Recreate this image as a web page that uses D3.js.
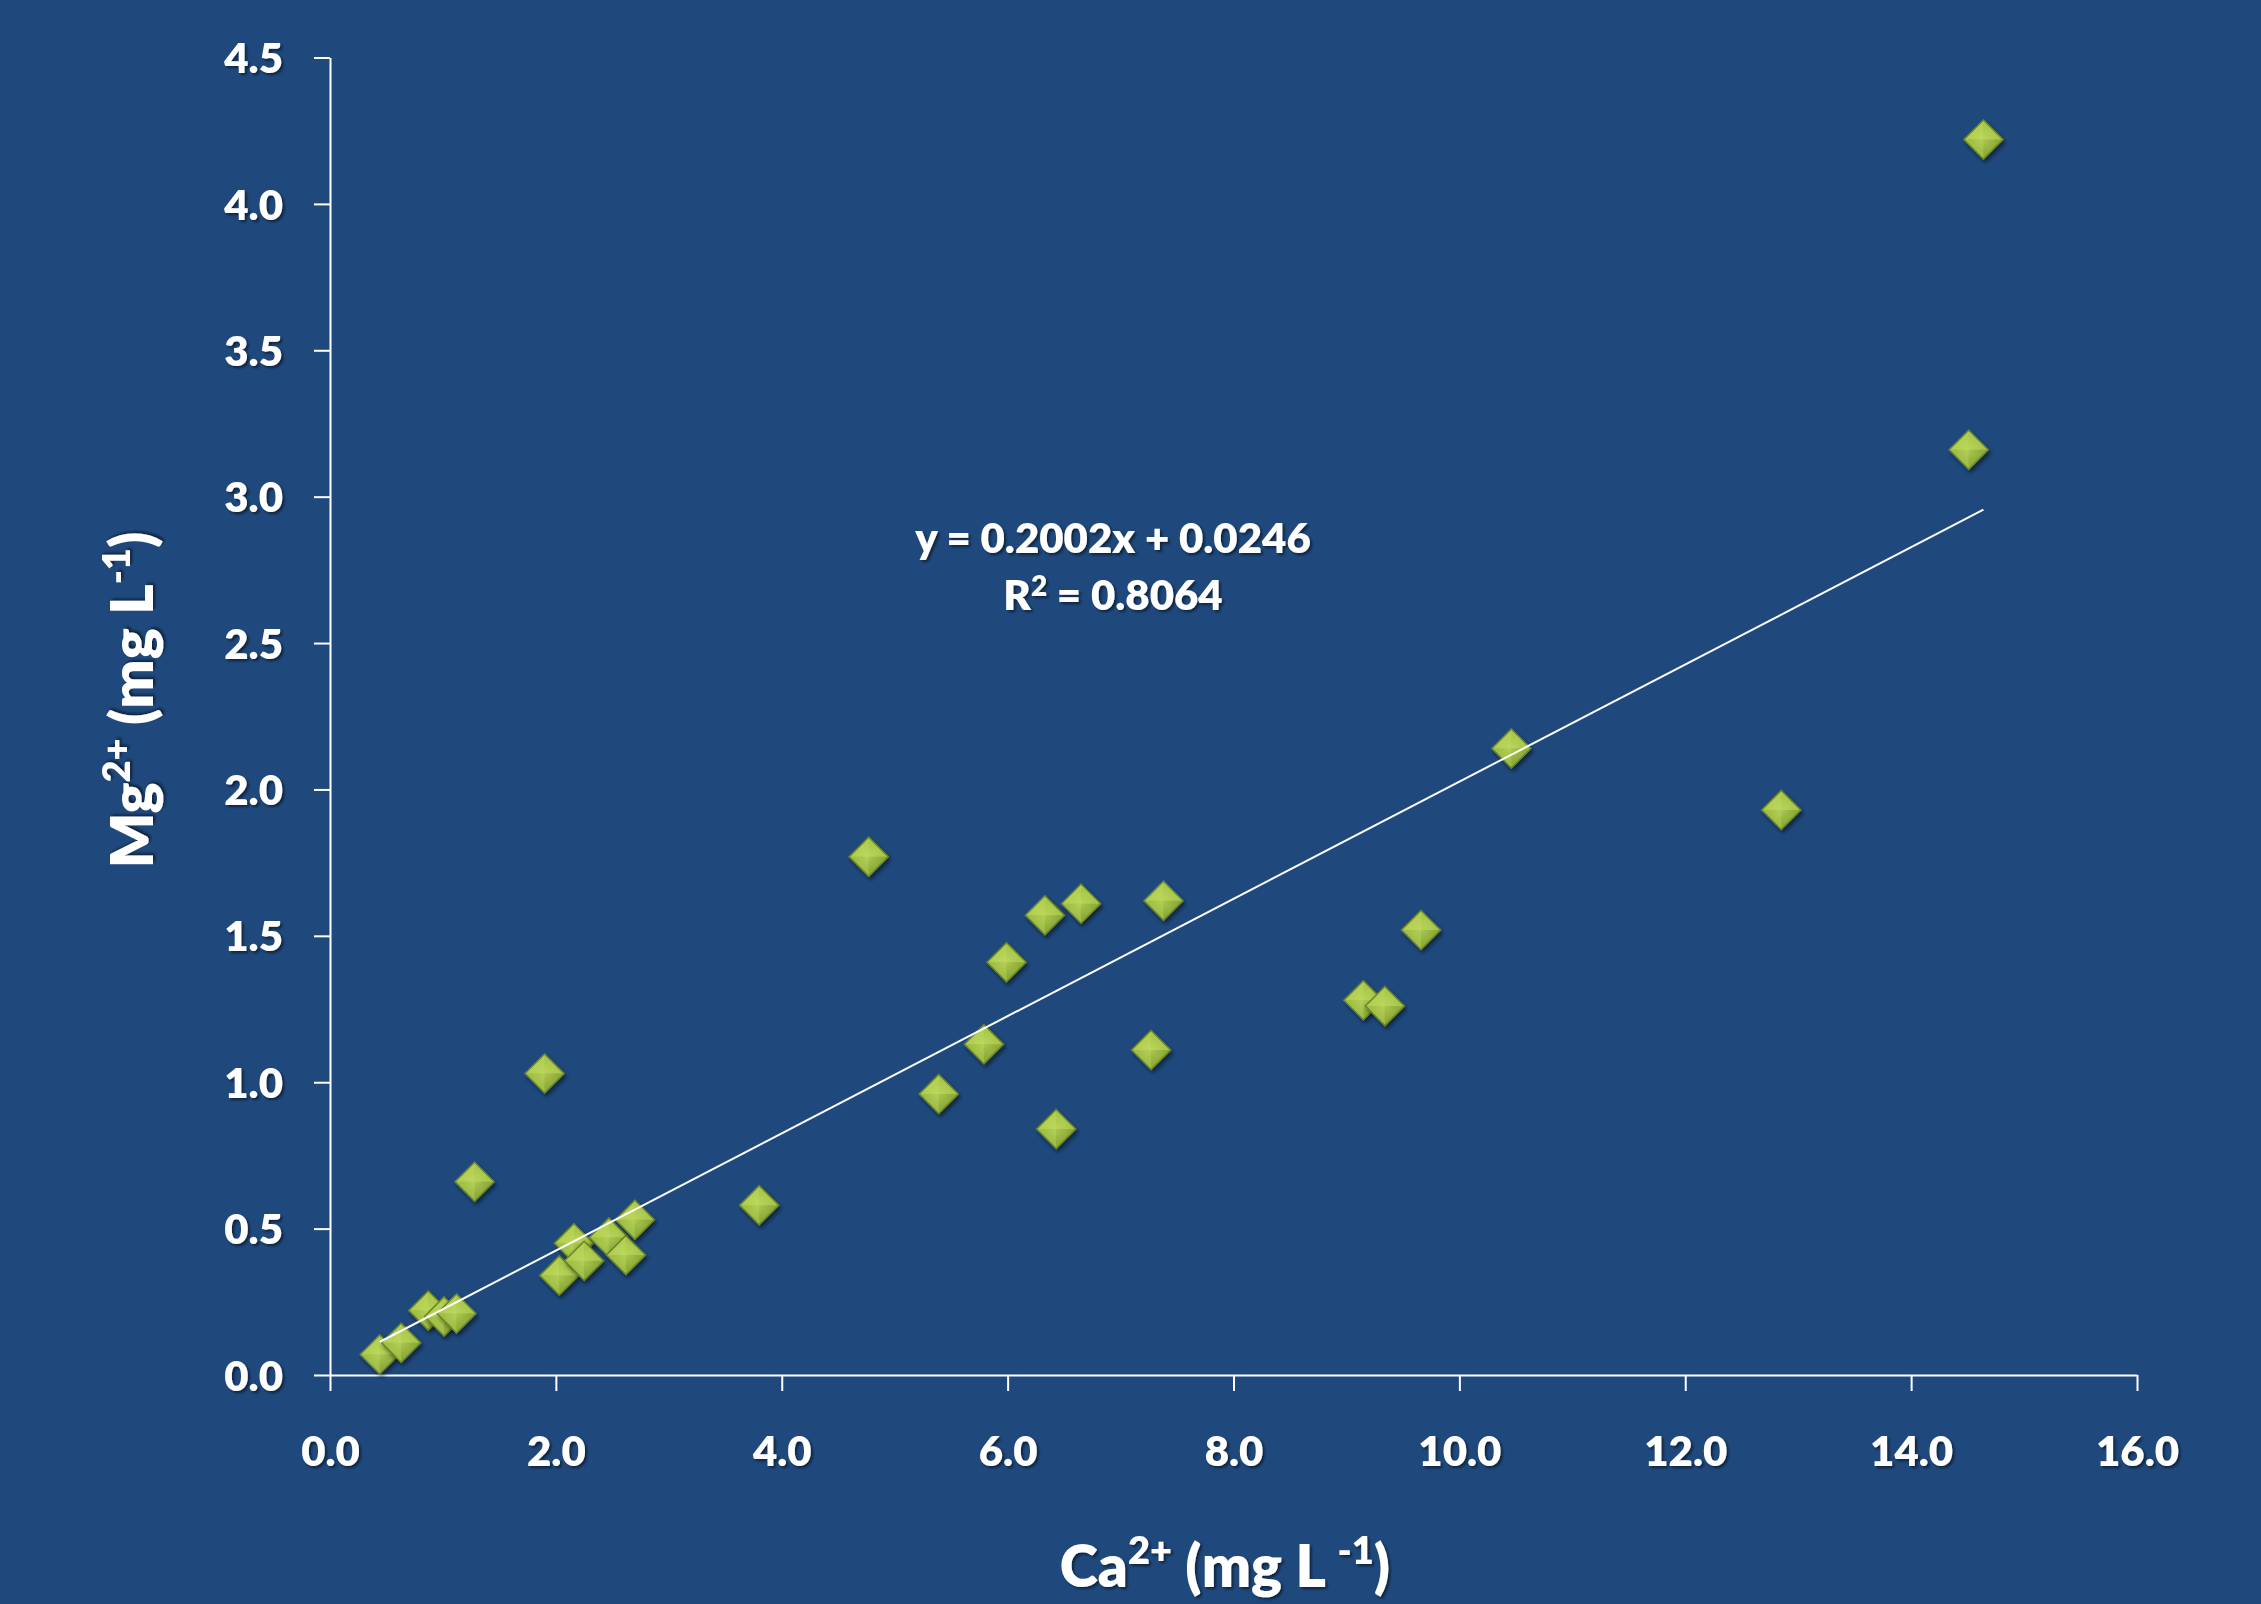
<!DOCTYPE html>
<html>
<head>
<meta charset="utf-8">
<script src="https://cdn.jsdelivr.net/npm/d3@7"></script>
<style>
  html, body { margin: 0; padding: 0; background: #1F497D; }
  svg { display: block; }
</style>
</head>
<body>
<svg id="chart" width="2261" height="1604"></svg>
<script>
// ---- data ----
const ca = [0.44, 0.63, 0.87, 1.01, 1.12, 1.28, 1.90, 2.03, 2.16, 2.25, 2.47, 2.62, 2.70,
            3.80, 4.77, 5.39, 5.79, 5.99, 6.33, 6.43, 6.65, 7.27, 7.38,
            9.15, 9.34, 9.66, 10.46, 12.85, 14.51, 14.64];
const mg = [0.07, 0.11, 0.22, 0.20, 0.21, 0.66, 1.03, 0.34, 0.45, 0.39, 0.47, 0.41, 0.53,
            0.58, 1.77, 0.96, 1.13, 1.41, 1.57, 0.84, 1.61, 1.11, 1.62,
            1.28, 1.26, 1.52, 2.14, 1.93, 3.16, 4.22];
const xTicks = [0, 2, 4, 6, 8, 10, 12, 14, 16];
const yTicks = [0, 0.5, 1, 1.5, 2, 2.5, 3, 3.5, 4, 4.5];
const slope = 0.2002, intercept = 0.0246;
const eqLine1 = "y = 0.2002x + 0.0246";
const eqLine2Base = "R", eqLine2Sup = "2", eqLine2Rest = " = 0.8064";

const svg = d3.select("#chart");
const W = 2261, H = 1604;
const FONT = "Lato, 'Open Sans', 'DejaVu Sans', sans-serif";

svg.append("rect").attr("width", W).attr("height", H).attr("fill", "#1F497D");

const defs = svg.append("defs");
const ts = defs.append("filter").attr("id", "txtShadow")
  .attr("x", "-10%").attr("y", "-20%").attr("width", "130%").attr("height", "150%");
ts.append("feDropShadow").attr("dx", 2).attr("dy", 2).attr("stdDeviation", 1.5)
  .attr("flood-color", "#000").attr("flood-opacity", 0.55);

const ms = defs.append("filter").attr("id", "mkShadow")
  .attr("x", "-50%").attr("y", "-50%").attr("width", "200%").attr("height", "200%");
ms.append("feDropShadow").attr("dx", 2).attr("dy", 3).attr("stdDeviation", 2.2)
  .attr("flood-color", "#000").attr("flood-opacity", 0.5);

const rg = defs.append("radialGradient").attr("id", "mkGlow")
  .attr("cx", "50%").attr("cy", "50%").attr("r", "50%");
rg.append("stop").attr("offset", "0%").attr("stop-color", "#c9e06a").attr("stop-opacity", 0.5);
rg.append("stop").attr("offset", "100%").attr("stop-color", "#c9e06a").attr("stop-opacity", 0);

// ---- scales ----
const x = d3.scaleLinear().domain([0, 16]).range([330, 2137]);
const y = d3.scaleLinear().domain([0, 4.5]).range([1375, 57.5]);

// ---- axes ----
const yAxis = d3.axisLeft(y).tickValues(yTicks).tickSize(16).tickSizeOuter(0)
  .tickPadding(31).tickFormat(d => d.toFixed(1));
const xAxis = d3.axisBottom(x).tickValues(xTicks).tickSize(16).tickSizeOuter(0)
  .tickPadding(46).tickFormat(d => d.toFixed(1));

const gy = svg.append("g").attr("transform", `translate(${x(0)},0)`).call(yAxis);
const gx = svg.append("g").attr("transform", `translate(0,${y(0)})`).call(xAxis);

[gx, gy].forEach(g => {
  g.select(".domain").attr("stroke", "#fff").attr("stroke-width", 2);
  g.selectAll(".tick line").attr("stroke", "#fff").attr("stroke-width", 2);
  g.selectAll(".tick text").attr("fill", "#fff").attr("font-family", FONT)
    .attr("font-weight", 800).attr("font-size", 42).attr("filter", "url(#txtShadow)");
});
gy.selectAll(".tick text").attr("dy", "0.36em");
gx.selectAll(".tick text").attr("dy", "0.7em");

// ---- markers ----
const S = 19.5; // half diagonal
const pts = ca.map((c, i) => ({ c, m: mg[i] }));
const mk = svg.append("g").selectAll("g.mk").data(pts).join("g")
  .attr("class", "mk")
  .attr("transform", d => `translate(${x(d.c)},${y(d.m)})`);
const body = mk.append("g").attr("filter", "url(#mkShadow)");
body.append("path").attr("d", `M0,${-S}L${S},0L0,${S}L${-S},0Z`)
  .attr("fill", "#9fbf45").attr("stroke", "#6f8a2c").attr("stroke-width", 1.2);
body.append("path").attr("d", `M0,${-S}L${S},0L0,0Z`).attr("fill", "#a9c84b");
body.append("path").attr("d", `M0,${-S}L${-S},0L0,0Z`).attr("fill", "#b2cf53");
body.append("path").attr("d", `M${-S},0L0,${S}L0,0Z`).attr("fill", "#9fbf45");
body.append("path").attr("d", `M${S},0L0,${S}L0,0Z`).attr("fill", "#8eac39");
body.append("circle").attr("r", S * 0.7).attr("fill", "url(#mkGlow)");
body.append("path").attr("d", `M0,${-S}L${S},0L0,${S}L${-S},0Z`)
  .attr("fill", "none").attr("stroke", "#6a842a").attr("stroke-width", 1.4);

// ---- trend line ----
const xMin = d3.min(ca), xMax = d3.max(ca);
svg.append("line")
  .attr("x1", x(xMin)).attr("y1", y(slope * xMin + intercept))
  .attr("x2", x(xMax)).attr("y2", y(slope * xMax + intercept))
  .attr("stroke", "#fff").attr("stroke-width", 2);

// ---- equation ----
const eq = svg.append("g").attr("font-family", FONT).attr("font-weight", 800)
  .attr("font-size", 42).attr("fill", "#fff").attr("text-anchor", "middle")
  .attr("filter", "url(#txtShadow)");
eq.append("text").attr("x", 1113).attr("y", 553).text(eqLine1);
const t2 = eq.append("text").attr("x", 1113).attr("y", 610);
t2.append("tspan").text(eqLine2Base);
t2.append("tspan").attr("font-size", 28).attr("dy", -14).text(eqLine2Sup);
t2.append("tspan").attr("dy", 14).text(eqLine2Rest);

// ---- axis titles ----
const xt = svg.append("text").attr("x", 1225).attr("y", 1587)
  .attr("font-family", FONT).attr("font-weight", 800).attr("font-size", 58)
  .attr("fill", "#fff").attr("text-anchor", "middle").attr("filter", "url(#txtShadow)");
xt.append("tspan").text("Ca");
xt.append("tspan").attr("font-size", 38).attr("dy", -23).text("2+");
xt.append("tspan").attr("dy", 23).text(" (mg L ");
xt.append("tspan").attr("font-size", 38).attr("dy", -23).text("-1");
xt.append("tspan").attr("dy", 23).text(")");

const yt = svg.append("text").attr("transform", "translate(153,700) rotate(-90)")
  .attr("font-family", FONT).attr("font-weight", 800).attr("font-size", 58)
  .attr("fill", "#fff").attr("text-anchor", "middle").attr("filter", "url(#txtShadow)");
yt.append("tspan").text("Mg");
yt.append("tspan").attr("font-size", 38).attr("dy", -23).text("2+");
yt.append("tspan").attr("dy", 23).text(" (mg L");
yt.append("tspan").attr("font-size", 38).attr("dy", -23).text("-1");
yt.append("tspan").attr("dy", 23).text(")");
</script>
</body>
</html>
